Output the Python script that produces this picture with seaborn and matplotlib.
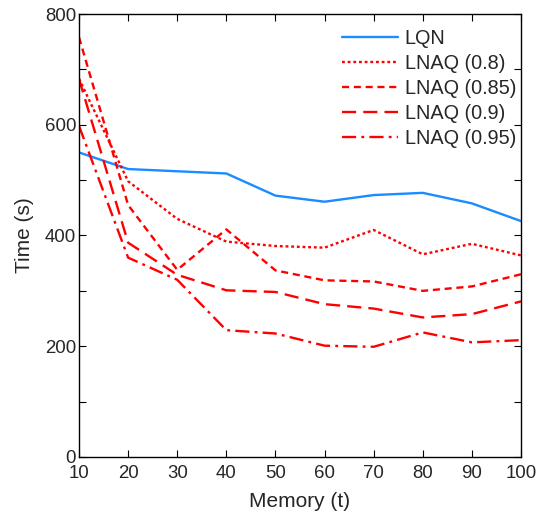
import matplotlib
matplotlib.use("Agg")
import matplotlib.pyplot as plt
import seaborn as sns
import pandas as pd
from matplotlib.ticker import MultipleLocator

memory = [10, 20, 30, 40, 50, 60, 70, 80, 90, 100]
lqn = [550, 520, 516, 512, 472, 461, 473, 477, 458, 426]
lnaq_080 = [683, 498, 430, 389, 381, 378, 410, 366, 385, 364]
lnaq_085 = [758, 455, 338, 411, 337, 319, 317, 300, 308, 330]
lnaq_090 = [683, 387, 329, 301, 298, 276, 268, 252, 258, 281]
lnaq_095 = [598, 360, 320, 229, 223, 201, 199, 225, 207, 211]
series_names = ["LQN", "LNAQ (0.8)", "LNAQ (0.85)", "LNAQ (0.9)", "LNAQ (0.95)"]
series_values = [lqn, lnaq_080, lnaq_085, lnaq_090, lnaq_095]

rows = []
for name, vals in zip(series_names, series_values):
    for m, v in zip(memory, vals):
        rows.append({"Memory": m, "Time": v, "Method": name})
df = pd.DataFrame(rows)

sns.set_style("white")
plt.rcParams["font.family"] = ["Liberation Sans", "DejaVu Sans"]

palette = {"LQN": "#1a8cff", "LNAQ (0.8)": "#ff0000", "LNAQ (0.85)": "#ff0000",
           "LNAQ (0.9)": "#ff0000", "LNAQ (0.95)": "#ff0000"}
dashes = {"LQN": "", "LNAQ (0.8)": (1.2, 1.2), "LNAQ (0.85)": (3, 2),
          "LNAQ (0.9)": (6, 3), "LNAQ (0.95)": (6, 2.2, 1.2, 2.2)}

fig = plt.figure(figsize=(5.47, 5.13), dpi=100)
ax = fig.add_axes([0.1444, 0.1092, 0.8081, 0.8635])

sns.lineplot(data=df, x="Memory", y="Time", hue="Method", style="Method",
             hue_order=series_names, style_order=series_names,
             palette=palette, dashes=dashes, linewidth=1.7, ax=ax, legend=True)

ax.set_xlim(10, 100)
ax.set_ylim(0, 800)
ax.set_xticks(memory)
ax.yaxis.set_major_locator(MultipleLocator(200))
ax.yaxis.set_minor_locator(MultipleLocator(100))
ax.tick_params(axis="both", which="both", direction="in", top=True, right=True,
               left=True, bottom=True, length=5, width=0.8, color="black")
ax.tick_params(axis="y", which="major", labelsize=13.4, pad=2)
ax.tick_params(axis="x", which="major", labelsize=13.4, pad=6)
for s in ax.spines.values():
    s.set_visible(True)
    s.set_color("black")
    s.set_linewidth(1.0)

ax.set_xlabel("Memory (t)", fontsize=15, labelpad=7)
ax.set_ylabel("Time (s)", fontsize=15, labelpad=8)

handles, labels = ax.get_legend_handles_labels()
ax.legend(handles, labels, loc="upper right", frameon=False, fontsize=14.3,
          handlelength=2.8, handletextpad=0.35, labelspacing=0.3,
          borderaxespad=0.0, bbox_to_anchor=(1.007, 0.984))

fig.savefig("out.png", dpi=100)
